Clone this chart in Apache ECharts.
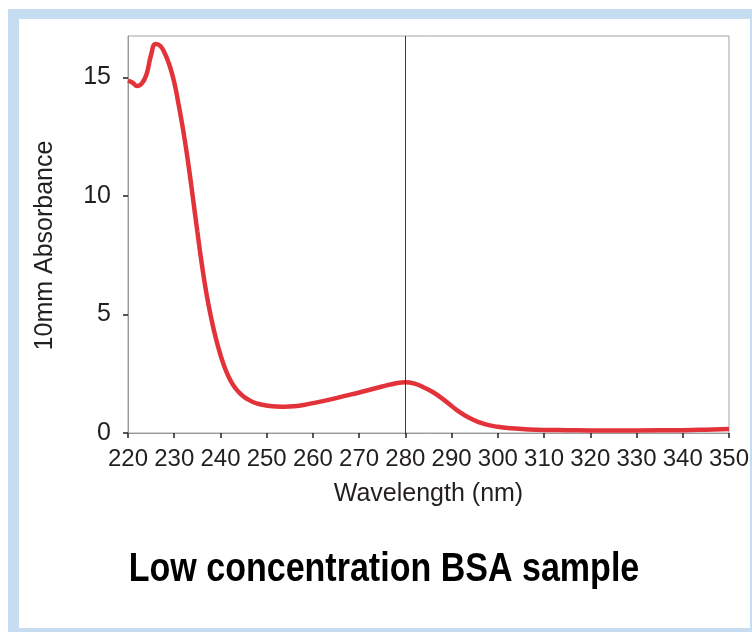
<!DOCTYPE html>
<html>
<head>
<meta charset="utf-8">
<script src="https://cdn.jsdelivr.net/npm/echarts@6/dist/echarts.min.js"></script>
<style>
html,body{margin:0;padding:0;background:#fff;}
#chart{width:752px;height:632px;}
</style>
</head>
<body>
<div id="chart"></div>
<script>
// Data
const wavelengths = [220, 221, 222, 223, 224, 225, 226, 227, 228, 229, 230, 231, 232, 233, 234, 235, 236, 237, 238, 239, 240, 241, 242, 243, 244, 245, 246, 247, 248, 249, 250, 252, 254, 256, 258, 260, 265, 270, 275, 278, 280, 282, 284, 286, 288, 290, 292, 294, 296, 298, 300, 303, 306, 310, 315, 320, 330, 340, 345, 350];
const absorbance  = [14.87, 14.78, 14.64, 14.75, 15.13, 15.96, 16.41, 16.33, 16.0, 15.5, 14.8, 13.8, 12.7, 11.42, 9.98, 8.5, 7.08, 5.85, 4.85, 4.0, 3.3, 2.72, 2.28, 1.95, 1.72, 1.54, 1.41, 1.31, 1.24, 1.19, 1.16, 1.12, 1.11, 1.13, 1.18, 1.26, 1.47, 1.71, 1.96, 2.1, 2.14, 2.08, 1.92, 1.72, 1.45, 1.14, 0.85, 0.62, 0.45, 0.33, 0.26, 0.2, 0.16, 0.13, 0.12, 0.11, 0.11, 0.12, 0.14, 0.17];
const xTicks = [220, 230, 240, 250, 260, 270, 280, 290, 300, 310, 320, 330, 340, 350];
const yTicks = [0, 5, 10, 15];
const markerWavelength = 280;
const xName = 'Wavelength (nm)';
const yName = '10mm Absorbance';
const chartTitle = 'Low concentration BSA sample';

const chart = echarts.init(document.getElementById('chart'), null, {renderer: 'canvas'});
const seriesData = wavelengths.map((w, i) => [w, absorbance[i]]);

const option = {
  backgroundColor: '#ffffff',
  animation: false,
  graphic: [
    {type: 'rect', z: -10, shape: {x: 8, y: 9, width: 744, height: 623}, style: {fill: '#c6ddf1'}},
    {type: 'rect', z: -9, shape: {x: 19, y: 19, width: 731, height: 609}, style: {fill: '#ffffff'}},
    {type: 'text', z: 10, x: 384, y: 570, scaleX: 0.83, style: {text: chartTitle, font: 'bold 41px "Liberation Sans", Arial, sans-serif', fill: '#000', align: 'center', verticalAlign: 'middle'}}
  ],
  grid: {left: 128, right: 23, top: 36, bottom: 199, show: true, borderColor: '#a3a3a3', borderWidth: 1, backgroundColor: 'transparent'},
  xAxis: {
    type: 'value', min: 220, max: 350, interval: 10,
    name: xName, nameLocation: 'middle', nameGap: 49,
    nameTextStyle: {fontFamily: '"Liberation Sans", Arial, sans-serif', fontSize: 25, color: '#231f20'},
    axisLine: {show: true, onZero: false, lineStyle: {color: '#9a9a9a', width: 1}},
    axisTick: {show: true, length: 5, inside: false, lineStyle: {color: '#231f20', width: 1.5}, customValues: xTicks},
    axisLabel: {show: true, margin: 14, fontFamily: '"Liberation Sans", Arial, sans-serif', fontSize: 24, color: '#231f20', customValues: xTicks},
    splitLine: {show: false}
  },
  yAxis: {
    type: 'value', min: 0, max: 16.75, interval: 5,
    name: yName, nameLocation: 'middle', nameGap: 70,
    nameTextStyle: {fontFamily: '"Liberation Sans", Arial, sans-serif', fontSize: 25, color: '#231f20', padding: [0, 22, 0, 0]},
    axisLine: {show: true, lineStyle: {color: '#9a9a9a', width: 1}},
    axisTick: {show: true, length: 5, lineStyle: {color: '#231f20', width: 1.5}, customValues: yTicks},
    axisLabel: {show: true, margin: 17, fontFamily: '"Liberation Sans", Arial, sans-serif', fontSize: 25, color: '#231f20', customValues: yTicks},
    splitLine: {show: false}
  },
  series: [{
    type: 'line',
    data: seriesData,
    smooth: 0.5,
    showSymbol: false,
    symbol: 'none',
    lineStyle: {color: '#e3333a', width: 4.5},
    markLine: {
      silent: true,
      symbol: 'none',
      label: {show: false},
      lineStyle: {color: '#3a3a3a', width: 1, type: 'solid'},
      data: [{xAxis: markerWavelength}]
    }
  }]
};
chart.setOption(option);
</script>
</body>
</html>
